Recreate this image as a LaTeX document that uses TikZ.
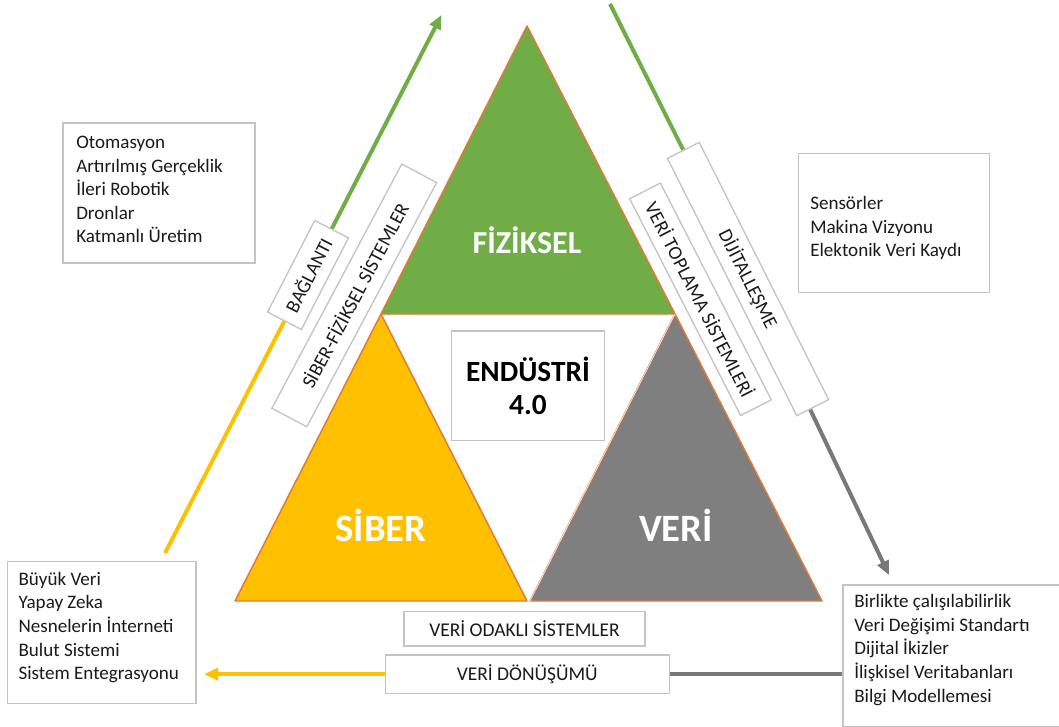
\documentclass[tikz,border=0pt]{standalone}
\usepackage{fontspec}
\setmainfont{Carlito}
\usetikzlibrary{arrows.meta}
\definecolor{tgreen}{HTML}{70AD47}
\definecolor{tyellow}{HTML}{FFC000}
\definecolor{tgray}{HTML}{7F7F7F}
\definecolor{torange}{HTML}{E07A3A}
\definecolor{boxgray}{HTML}{C4C4C4}
\definecolor{txt}{HTML}{1A1A1A}
\definecolor{lgray}{HTML}{787878}
\pgfdeclarelayer{bg}
\pgfsetlayers{bg,main}
\def\px{0.75pt}
\begin{document}
\begin{tikzpicture}[x=0.75pt,y=-0.75pt,
  listbox/.style={draw=boxgray,line width=1pt,fill=white,inner sep=0pt},
  listtext/.style={font=\fontsize{14.3}{17.7}\selectfont,align=left,inner sep=0pt,text=txt,anchor=west},
  tagbox/.style={draw=boxgray,line width=1pt,fill=white,inner sep=0pt,font=\fontsize{14.6}{17}\selectfont,text=txt},
  tri/.style={draw=torange,line width=1.1pt,line join=round},
  bigword/.style={text=white,font=\bfseries\fontsize{#1}{#1}\selectfont,inner sep=0pt,anchor=base},
  conn/.style={line width=3pt},
  headtip/.style={-{Triangle[length=10.5pt,width=9pt]}}
]
\useasboundingbox (0,0) rectangle (1059,727);
\clip (0,0) rectangle (1059,727);

% triangle labels
\node[bigword=24] (fiz) at (527,253) {FİZİKSEL};
\node[bigword=29] (sib) at (381,541) {SİBER};
\node[bigword=29] (ver) at (676,541) {VERİ};

% centre box
\node[listbox,minimum width=152.7*\px,minimum height=109.7*\px,
      font=\bfseries\fontsize{22}{25}\selectfont,align=center,text=black] (end) at (528,385.8) {ENDÜSTRİ\\4.0};

% list boxes
\node[listbox,minimum width=192*\px,minimum height=140*\px] (lt) at (159,193) {};
\node[listtext] (ltt) at (76,189.5) {Otomasyon\\Artırılmış Gerçeklik\\İleri Robotik\\Dronlar\\Katmanlı Üretim};

\node[listbox,minimum width=191*\px,minimum height=139.4*\px] (rt) at (893.8,223) {};
\node[listtext] (rtt) at (810,228) {Sensörler\\Makina Vizyonu\\Elektonik Veri Kaydı};

\node[listbox,minimum width=188.7*\px,minimum height=141.6*\px] (lb) at (101.7,632.5) {};
\node[listtext] (lbt) at (18.3,627.5) {Büyük Veri\\Yapay Zeka\\Nesnelerin İnterneti\\Bulut Sistemi\\Sistem Entegrasyonu};

\node[listbox,minimum width=222*\px,minimum height=141.7*\px] (rb) at (954,655.8) {};
\node[listtext] (rbt) at (854,650) {Birlikte çalışılabilirlik\\Veri Değişimi Standartı\\Dijital İkizler\\İlişkisel Veritabanları\\Bilgi Modellemesi};

% tag boxes
\node[tagbox,rotate=62.8,minimum width=103*\px,minimum height=38*\px] (bag) at (308,275) {BAĞLANTI};
\node[tagbox,rotate=62,minimum width=276.6*\px,minimum height=39.5*\px] (sfs) at (354.3,295.4) {SİBER-FİZİKSEL SİSTEMLER};
\node[tagbox,rotate=-63.3,minimum width=288*\px,minimum height=35.6*\px] (dij) at (748,279) {DİJİTALLEŞME};
\node[tagbox,rotate=-62.9,minimum width=243.5*\px,minimum height=34.5*\px] (vts) at (700.5,299.3) {VERİ TOPLAMA SİSTEMLERİ};
\node[tagbox,minimum width=241*\px,minimum height=34.3*\px] (vos) at (524.5,628.8) {VERİ ODAKLI SİSTEMLER};
\node[tagbox,minimum width=284*\px,minimum height=38.3*\px] (vdd) at (527.2,674.2) {VERİ DÖNÜŞÜMÜ};

% connector ends
\coordinate (yl0) at (165,553);
\coordinate (gtip) at (441.5,15);
\coordinate (rg0) at (610,4);
\coordinate (gytip) at (889,575);
\coordinate (ytip) at (204,674.2);

\begin{pgfonlayer}{bg}
  \path[tri,fill=tgreen] (527,26) -- (675,314) -- (381,314) -- cycle;
  \path[tri,fill=tyellow] (381,314) -- (527,601) -- (235,601) -- cycle;
  \path[tri,fill=tgray] (675,314) -- (822,601) -- (530,601) -- cycle;
  \draw[white,line width=0.4pt] (675,314) -- (530,601);
  \draw[conn,tyellow] (yl0) -- (bag);
  \draw[conn,tgreen,headtip] (bag) -- (gtip);
  \draw[conn,tgreen] (rg0) -- (dij);
  \draw[conn,lgray,headtip] (dij) -- (gytip);
  \draw[conn,lgray] (vdd) -- (vdd -| rb.west);
  \draw[conn,tyellow,headtip] (vdd) -- (ytip);
\end{pgfonlayer}
\end{tikzpicture}
\end{document}
